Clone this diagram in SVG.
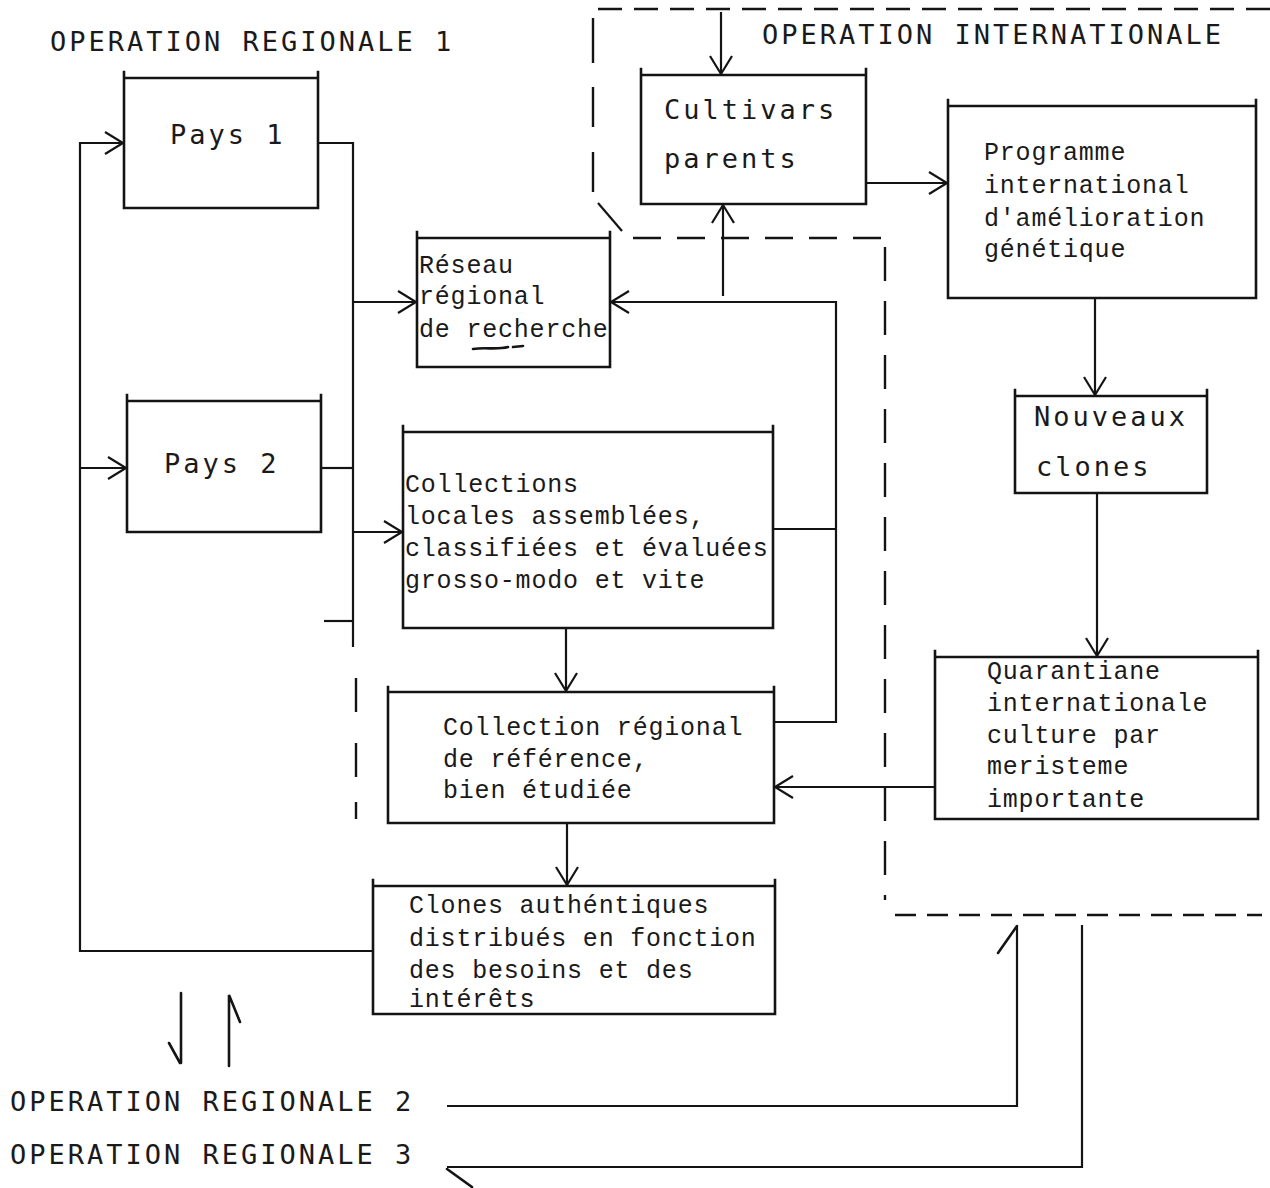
<svg xmlns="http://www.w3.org/2000/svg" width="1270" height="1188" viewBox="0 0 1270 1188">
<style>
.bg{fill:#ffffff}
.box{fill:none;stroke:#141414;stroke-width:2.6;stroke-linecap:square}
.ln{fill:none;stroke:#141414;stroke-width:2.2}
.dash{fill:none;stroke:#141414;stroke-width:2.4}
.hand{fill:none;stroke:#141414;stroke-width:2.6;stroke-linecap:round}
.sans{font-family:"DejaVu Sans Mono","Liberation Mono",monospace;font-size:27px;letter-spacing:3px;fill:#1a1a1a}
.ser{font-family:"Liberation Mono","DejaVu Sans Mono",monospace;font-size:25px;letter-spacing:0.8px;fill:#1a1a1a}
</style>
<defs>
<marker id="arr" viewBox="-20 -14 23 28" refX="0" refY="0" markerWidth="23" markerHeight="28" markerUnits="userSpaceOnUse" orient="auto">
<path d="M-18,-11 L0,0 L-18,11" fill="none" stroke="#141414" stroke-width="2.2"/>
</marker>
</defs>
<rect class="bg" x="0" y="0" width="1270" height="1188"/>

<g id="labels">
<text class="sans" x="50" y="51">OPERATION REGIONALE 1</text>
<text class="sans" x="762" y="44">OPERATION INTERNATIONALE</text>
<text class="sans" x="10" y="1111">OPERATION REGIONALE 2</text>
<text class="sans" x="10" y="1164">OPERATION REGIONALE 3</text>
</g>

<g id="boundaries">
<path class="dash" d="M598,9 H1270" stroke-dasharray="24,12"/>
<path class="dash" d="M593,18 V63 M593,87 V127 M593,152 V192"/>
<path class="ln" d="M598,203 L622,231"/>
<path class="dash" d="M633,238 H882" stroke-dasharray="28,16"/>
<path class="dash" d="M885,247 V900" stroke-dasharray="34,20"/>
<path class="dash" d="M895,915 H1262" stroke-dasharray="21,11"/>
<path class="dash" d="M356,678 V712 M356,743 V777 M356,802 V819"/>
</g>

<g id="pays1">
<path class="box" d="M124,72 V208 M318,72 V208 M124,78 H318 M124,208 H318"/>
<text class="sans" x="170" y="144">Pays 1</text>
</g>

<g id="pays2">
<path class="box" d="M127,395 V532 M321,395 V532 M127,401 H321 M127,532 H321"/>
<text class="sans" x="164" y="473">Pays 2</text>
</g>

<g id="reseau">
<path class="box" d="M417,232 V367 M610,232 V367 M417,238 H610 M417,367 H610"/>
<text class="ser" x="419" y="273">Réseau</text>
<text class="ser" x="419" y="304">régional</text>
<text class="ser" x="419" y="337">de recherche</text>
<path class="hand" d="M473,349 C485,347 497,350 508,347 M513,347 L523,346" stroke-width="1.6"/>
</g>

<g id="collections">
<path class="box" d="M403,426 V628 M773,426 V628 M403,432 H773 M403,628 H773"/>
<text class="ser" x="405" y="492">Collections</text>
<text class="ser" x="405" y="524">locales assemblées,</text>
<text class="ser" x="405" y="556">classifiées et évaluées</text>
<text class="ser" x="405" y="588">grosso-modo et vite</text>
</g>

<g id="collection-regional">
<path class="box" d="M388,687 V823 M774,687 V823 M388,692 H774 M388,823 H774"/>
<text class="ser" x="443" y="735">Collection régional</text>
<text class="ser" x="443" y="767">de référence,</text>
<text class="ser" x="443" y="798">bien étudiée</text>
</g>

<g id="clones">
<path class="box" d="M373,880 V1014 M775,880 V1014 M373,886 H775 M373,1014 H775"/>
<text class="ser" x="409" y="913">Clones authéntiques</text>
<text class="ser" x="409" y="946">distribués en fonction</text>
<text class="ser" x="409" y="978">des besoins et des</text>
<text class="ser" x="409" y="1007">intérêts</text>
</g>

<g id="cultivars">
<path class="box" d="M641,69 V204 M866,69 V204 M641,75 H866 M641,204 H866"/>
<text class="sans" x="664" y="119">Cultivars</text>
<text class="sans" x="664" y="168">parents</text>
</g>

<g id="programme">
<path class="box" d="M948,100 V298 M1256,100 V298 M948,106 H1256 M948,298 H1256"/>
<text class="ser" x="984" y="160">Programme</text>
<text class="ser" x="984" y="193">international</text>
<text class="ser" x="984" y="226">d'amélioration</text>
<text class="ser" x="984" y="257">génétique</text>
</g>

<g id="nouveaux">
<path class="box" d="M1015,390 V493 M1207,390 V493 M1015,396 H1207 M1015,493 H1207"/>
<text class="sans" x="1034" y="426">Nouveaux</text>
<text class="sans" x="1036" y="476">clones</text>
</g>

<g id="quarantaine">
<path class="box" d="M935,651 V819 M1258,651 V819 M935,657 H1258 M935,819 H1258"/>
<text class="ser" x="987" y="679">Quarantiane</text>
<text class="ser" x="987" y="711">internationale</text>
<text class="ser" x="987" y="743">culture par</text>
<text class="ser" x="987" y="774">meristeme</text>
<text class="ser" x="987" y="807">importante</text>
</g>

<g id="connectors">
<path class="ln" d="M373,951 H80 V143 H123" marker-end="url(#arr)"/>
<path class="ln" d="M80,468 H126" marker-end="url(#arr)"/>
<path class="ln" d="M318,143 H353 V647"/>
<path class="ln" d="M321,468 H353"/>
<path class="ln" d="M324,621 H353"/>
<path class="ln" d="M353,302 H416" marker-end="url(#arr)"/>
<path class="ln" d="M353,532 H402" marker-end="url(#arr)"/>
<path class="ln" d="M721,12 V74" marker-end="url(#arr)"/>
<path class="ln" d="M866,183 H947" marker-end="url(#arr)"/>
<path class="ln" d="M773,529 H836 M774,722 H836 V302 H611" marker-end="url(#arr)"/>
<path class="ln" d="M723,296 V205" marker-end="url(#arr)"/>
<path class="ln" d="M1095,298 V395" marker-end="url(#arr)"/>
<path class="ln" d="M1097,493 V656" marker-end="url(#arr)"/>
<path class="ln" d="M935,787 H775" marker-end="url(#arr)"/>
<path class="ln" d="M566,628 V691" marker-end="url(#arr)"/>
<path class="ln" d="M567,823 V885" marker-end="url(#arr)"/>
<path class="ln" d="M447,1106 H1017 V927"/>
<path class="hand" d="M998,953 L1017,926"/>
<path class="ln" d="M1082,925 V1167 H447"/>
<path class="hand" d="M447,1169 L472,1187"/>
<path class="hand" d="M181,993 V1063 M169,1043 L180,1063"/>
<path class="hand" d="M229,1066 V995 L240,1022"/>
</g>
</svg>
